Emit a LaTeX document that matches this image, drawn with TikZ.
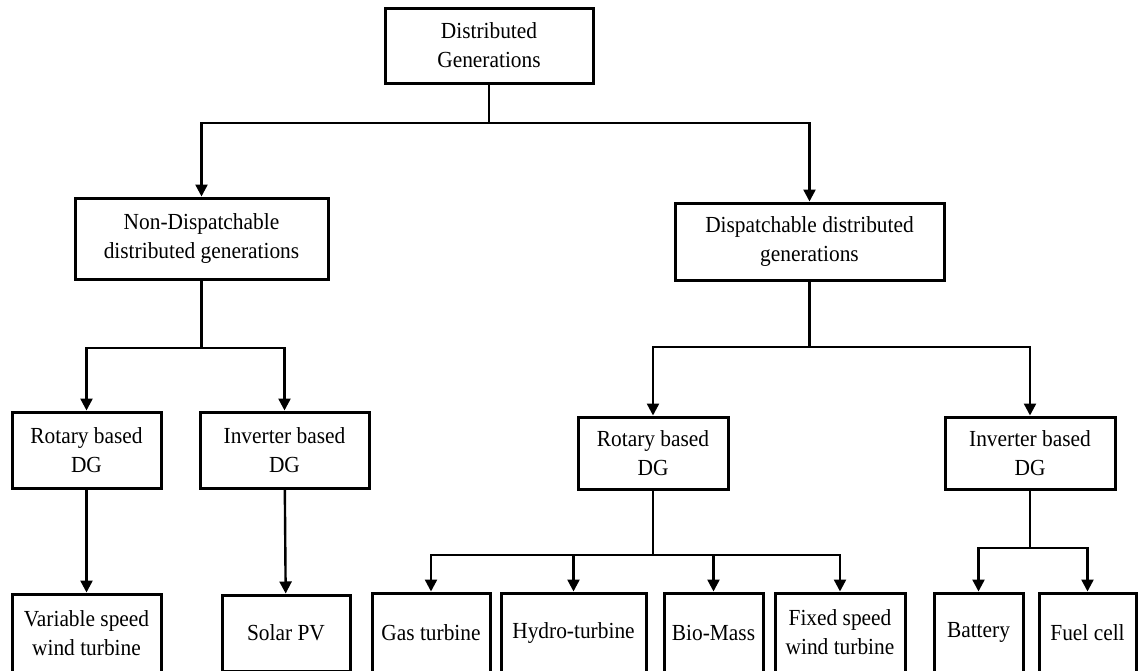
\documentclass[tikz,border=0pt]{standalone}
\usepackage{fontspec}
\setmainfont[FakeStretch=0.93]{Liberation Serif}
\usetikzlibrary{positioning,arrows.meta}
\tikzstyle{box}=[draw,line width=3pt,align=center,inner sep=0pt,
  font=\fontsize{23}{29}\selectfont]
\newcommand{\newBox}[4]{\node[box,#3](#1)[#4]{#2};}
\newcommand{\newBranch}[3]{\draw[->] (#1.south) -- (#3) -| (#2);}
\newcommand{\newLink}[2]{\draw[->] (#1) -- (#2);}

\begin{document}
\begin{tikzpicture}[x=1pt,y=-1pt,
      >={Triangle[width=12pt,length=12pt]},
      line width=2.4pt
      ]
      \useasboundingbox (0,0) rectangle (1138,670);
      % top level
      \newBox{DG}{Distributed\\Generations}{minimum width=208,minimum height=75}{at={(489,45.5)}}
      \newBox{NDG}{Non-Dispatchable\\distributed generations}{minimum width=253,minimum height=81}{at={(201.5,238.5)}}
      \newBox{DDG}{Dispatchable distributed\\generations}{minimum width=269,minimum height=77}{at={(809.5,241.5)}}
      % second level
      \newBox{RotL}{Rotary based\\DG}{minimum width=149,minimum height=76}{at={(86.5,450)}}
      \newBox{InvL}{Inverter based\\DG}{minimum width=169,minimum height=76}{at={(284.5,450)}}
      \newBox{RotR}{Rotary based\\DG}{minimum width=150,minimum height=72}{at={(653,453)}}
      \newBox{InvR}{Inverter based\\DG}{minimum width=170,minimum height=72}{at={(1030,453)}}
      % bottom row
      \newBox{VarW}{Variable speed\\wind turbine}{minimum width=149,minimum height=78}{at={(86.5,633)}}
      \newBox{PV}{Solar PV}{minimum width=128,minimum height=76}{at={(286,633)}}
      \newBox{Gas}{Gas turbine}{minimum width=118,minimum height=79}{at={(431,632.5)}}
      \newBox{Hydro}{Hydro-turbine}{minimum width=145,minimum height=79}{at={(573.5,632.5)}}
      \newBox{Bio}{Bio-Mass}{minimum width=99,minimum height=79}{at={(713.5,632.5)}}
      \newBox{FixW}{Fixed speed\\wind turbine}{minimum width=130,minimum height=79}{at={(840,632.5)}}
      \newBox{Bat}{Battery}{minimum width=89,minimum height=79}{at={(978.5,632.5)}}
      \newBox{Fuel}{Fuel cell}{minimum width=97,minimum height=79}{at={(1087.5,632.5)}}
      % junctions
      \coordinate (jDG) at (489,123);
      \coordinate (jNDG) at (201.5,348);
      \coordinate (jDDG) at (809.5,347);
      \coordinate (jRotR) at (653,555);
      \coordinate (jInvR) at (1030,548);
      % connectors
      \newBranch{DG}{NDG}{jDG}
      \newBranch{DG}{DDG}{jDG}
      \newBranch{NDG}{RotL}{jNDG}
      \newBranch{NDG}{InvL}{jNDG}
      \newBranch{DDG}{RotR}{jDDG}
      \newBranch{DDG}{InvR}{jDDG}
      \newLink{RotL}{VarW}
      \newLink{InvL}{PV}
      \newBranch{RotR}{Gas}{jRotR}
      \newBranch{RotR}{Hydro}{jRotR}
      \newBranch{RotR}{Bio}{jRotR}
      \newBranch{RotR}{FixW}{jRotR}
      \newBranch{InvR}{Bat}{jInvR}
      \newBranch{InvR}{Fuel}{jInvR}
    \end{tikzpicture}
\end{document}
